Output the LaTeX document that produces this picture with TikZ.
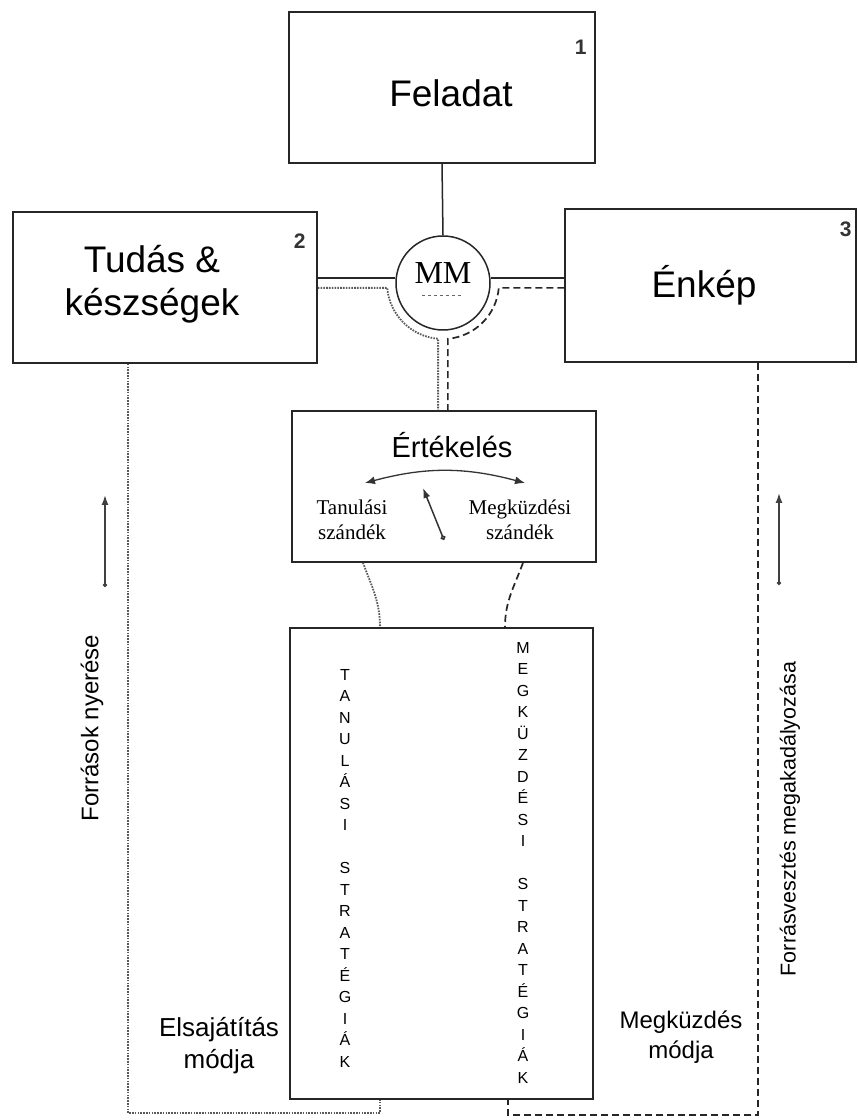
\documentclass[tikz,border=0pt]{standalone}
\usepackage{fontspec}
\setmainfont{Liberation Sans}
\newfontfamily\timesfont{Liberation Serif}
\usetikzlibrary{
	arrows.meta,
	positioning
}
\tikzset{
	box/.style={
		draw=black!85,line width=1.5pt,inner sep=0pt
	},
	bigtext/.style={
		font=\fontsize{37}{43}\selectfont,align=center
	},
	numtext/.style={
		font=\bfseries\fontsize{21}{24}\selectfont,text=black!80
	},
	seriftext/.style={
		font=\timesfont\fontsize{21}{25}\selectfont,align=center
	},
	lettercol/.style={
		font=\fontsize{16}{21.5}\selectfont,align=center,anchor=north,inner sep=0pt
	},
	dotline/.style={
		line width=1.8pt,black!65,dash pattern=on 1.6pt off 1.2pt
	},
	dashline/.style={
		line width=1.7pt,black!85,dash pattern=on 7pt off 4pt
	},
	thinline/.style={
		line width=1.5pt,black!85
	}
}

\begin{document}
\begin{tikzpicture}[x=1pt,y=1pt]
	\fill[white] (0,0) rectangle (858,1120);
	\useasboundingbox (0,0) rectangle (858,1120);
	\draw
		node [box,minimum width=306pt,minimum height=151pt] (feladat) at (442,1032.5)  {}
		node [box,minimum width=304pt,minimum height=151pt] (tudas)   at (165,832.5)   {}
		node [box,minimum width=291pt,minimum height=153pt] (enkep)   at (710.5,834.5) {}
		node [box,circle,minimum size=94pt]                 (mm)      at (443,837)     {}
		node [box,minimum width=304pt,minimum height=151pt] (ertek)   at (444,633.5)   {}
		node [box,minimum width=303pt,minimum height=471pt] (strat)   at (441.5,256.5) {}
	;
	\node [bigtext] (feladat-t) at ([shift={(9,-5.5)}]feladat.center) {Feladat};
	\node [bigtext] (tudas-t)   at ([shift={(-13,3.5)}]tudas.center)  {Tudás \&\\készségek};
	\node [bigtext] (enkep-t)   at ([shift={(-6.5,0)}]enkep.center)   {Énkép};
	\node [numtext] (n1) at ([shift={(-15,-36)}]feladat.north east) {1};
	\node [numtext] (n2) at ([shift={(-18,-30)}]tudas.north east)   {2};
	\node [numtext] (n3) at ([shift={(-11,-21)}]enkep.north east)   {3};
	\node [font=\timesfont\fontsize{32}{36}\selectfont] (mm-t) at ([yshift=10pt]mm.center) {MM};
	\draw [black!60,line width=1pt,dash pattern=on 3pt off 3pt]
		([shift={(-21,-13)}]mm.center) -- ([shift={(20,-13)}]mm.center);

	\coordinate (mmW) at ([yshift=5pt]mm.west);
	\coordinate (mmE) at ([yshift=5pt]mm.east);
	\coordinate (arcL)  at ([shift={(185:56pt)}]mm.center);
	\coordinate (arcLb) at ([shift={(265:56pt)}]mm.center);
	\coordinate (arcR)  at ([shift={(-5:56pt)}]mm.center);
	\coordinate (arcRb) at ([shift={(-85:56pt)}]mm.center);
	\draw [thinline] (feladat.south) -- (mm.north);
	\draw [thinline] (tudas.east |- mmW) -- (mmW);
	\draw [thinline] (mmE) -- (enkep.west |- mmE);
	\draw [dotline] (tudas.east |- arcL) -- (arcL)
		arc [start angle=185,end angle=265,radius=56pt] -- (arcLb |- ertek.north);
	\draw [dashline] (enkep.west |- arcR) -- (arcR)
		arc [start angle=-5,end angle=-85,radius=56pt] -- (arcRb |- ertek.north);

	\node [bigtext,font=\fontsize{29}{34}\selectfont,anchor=base] (ertek-t)
		at ([shift={(8,28.5)}]ertek.center) {Értékelés};
	\coordinate (swL) at ([shift={(-79,3.5)}]ertek.center);
	\coordinate (swR) at ([shift={(81,3.5)}]ertek.center);
	\coordinate (pivot) at ([shift={(0,-53.5)}]ertek.center);
	\coordinate (needle) at ([shift={(-21,-1.5)}]ertek.center);
	\draw [line width=1.3pt,black!80,{Latex[length=10pt,width=8pt]}-{Latex[length=10pt,width=8pt]}]
		(swL) to [bend left=15] (swR);
	\draw [line width=1.5pt,black!80,{Circle[open,length=5pt]}-{Latex[length=10pt,width=7pt]}]
		(pivot) -- (needle);
	\node [seriftext] (tan-t) at ([shift={(-92,-33.5)}]ertek.center) {Tanulási\\szándék};
	\node [seriftext] (megk-t) at ([shift={(76,-33.5)}]ertek.center) {Megküzdési\\szándék};

	\draw [dotline] ([xshift=-81pt]ertek.south) to [out=-70,in=90] ([xshift=-61.5pt]strat.north);
	\draw [dashline] ([xshift=79pt]ertek.south) to [out=-110,in=90] ([xshift=63.5pt]strat.north);

	\node [lettercol] (col-l) at (345,451)
		{T\\A\\N\\U\\L\\Á\\S\\I\\[21.5pt]S\\T\\R\\A\\T\\É\\G\\I\\Á\\K};
	\node [lettercol] (col-r) at (523,478)
		{M\\E\\G\\K\\Ü\\Z\\D\\É\\S\\I\\[21.5pt]S\\T\\R\\A\\T\\É\\G\\I\\Á\\K};

	\coordinate (lowL) at (128,7);
	\coordinate (lowR) at (758,5);
	\draw [dotline] ([xshift=-37pt]tudas.south) -- (lowL) -| ([xshift=-61.5pt]strat.south);
	\draw [dashline] ([xshift=47.5pt]enkep.south) -- (lowR) -| ([xshift=66.5pt]strat.south);

	\coordinate (upL0) at (105,533);
	\coordinate (upL1) at (105,625);
	\coordinate (upR0) at (779,535);
	\coordinate (upR1) at (779,627);
	\draw [line width=1.5pt,black!75,{Circle[length=4pt]}-{Latex[length=10pt,width=7pt]}] (upL0) -- (upL1);
	\draw [line width=1.5pt,black!75,{Circle[length=4pt]}-{Latex[length=10pt,width=7pt]}] (upR0) -- (upR1);
	\node [rotate=90,font=\fontsize{24}{28}\selectfont] (forr-t) at (92,392) {Források nyerése};
	\node [rotate=90,font=\fontsize{21.5}{25}\selectfont] (vesz-t) at (790,301) {Forrásvesztés megakadályozása};

	\node [bigtext,font=\fontsize{26}{32}\selectfont] (elsaj-t) at (219,74) {Elsajátítás\\módja};
	\node [bigtext,font=\fontsize{24}{30}\selectfont] (megkm-t) at (681,83) {Megküzdés\\módja};
\end{tikzpicture}
\end{document}
